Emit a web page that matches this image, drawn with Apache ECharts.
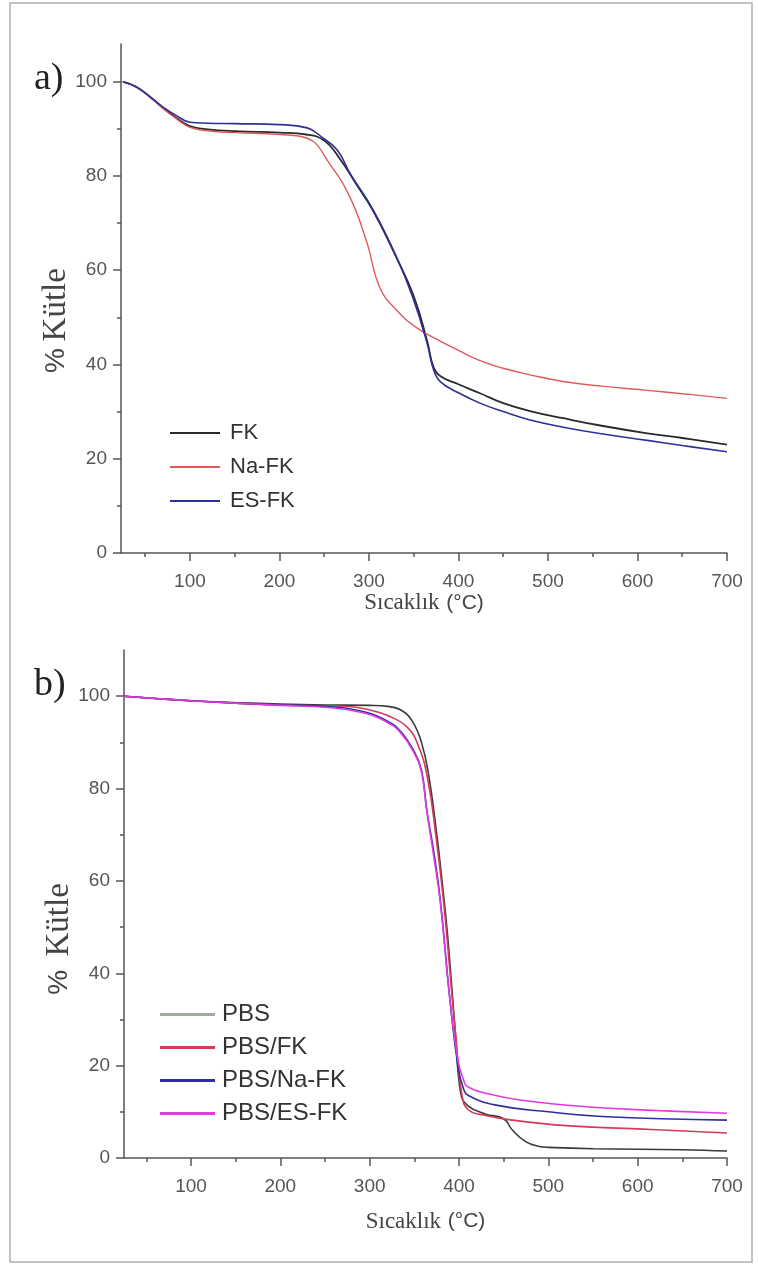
<!DOCTYPE html>
<html>
<head>
<meta charset="utf-8">
<script src="https://cdn.jsdelivr.net/npm/echarts@6.0.0/dist/echarts.min.js"></script>
<style>
  html, body { margin: 0; padding: 0; background: #fff; }
  #main { width: 758px; height: 1265px; }
</style>
</head>
<body>
<div id="main"></div>
<script>
// ---- panel a: FK, Na-FK, ES-FK ----
var tempFK  = [25, 40, 55, 70, 85, 100, 120, 150, 200, 230, 250, 268, 285, 305, 330, 350, 365, 372, 380, 400, 424, 450, 480, 517, 560, 611, 650, 700];
var massFK  = [100, 98.9, 96.8, 94.4, 92.3, 90.6, 89.9, 89.5, 89.2, 88.8, 87.5, 83.5, 78.5, 72.5, 63, 54.5, 45, 39.5, 37.5, 35.8, 33.9, 31.8, 30.1, 28.6, 27, 25.4, 24.4, 23];
var tempNa  = [25, 40, 55, 70, 85, 100, 120, 150, 200, 231, 256, 279, 298, 312, 331, 354, 379, 400, 424, 450, 480, 517, 560, 611, 650, 700];
var massNa  = [100, 98.9, 96.8, 94.3, 92.1, 90.3, 89.6, 89.2, 88.8, 88, 82.6, 75.4, 65.7, 56.4, 51.5, 47.7, 45, 43, 40.8, 39.2, 37.8, 36.4, 35.4, 34.5, 33.8, 32.8];
var tempES  = [25, 40, 55, 70, 85, 100, 120, 150, 200, 231, 249, 265, 279, 305, 331, 349, 365, 372, 380, 400, 424, 450, 480, 517, 560, 611, 650, 700];
var massES  = [100, 98.9, 96.9, 94.6, 92.8, 91.4, 91.2, 91.1, 90.9, 90.2, 88, 85.4, 80.5, 72.7, 62.7, 54.2, 44.5, 39, 36.3, 34, 31.8, 30, 28.2, 26.7, 25.3, 23.9, 22.8, 21.5];

// ---- panel b: PBS composites ----
var tempPBS    = [25, 60, 100, 150, 200, 250, 300, 320, 335, 348, 358, 366, 375, 381, 387, 396, 402, 410, 430, 450, 460, 475, 490, 500, 550, 650, 700];
var massPBS    = [100, 99.5, 99, 98.6, 98.3, 98.1, 98, 97.8, 97, 94.5, 90, 83, 70.3, 60, 48.7, 27, 14, 11.3, 9.5, 8.5, 6, 3.5, 2.5, 2.3, 2, 1.8, 1.5];
var tempPBSFK  = [25, 60, 100, 150, 200, 250, 280, 300, 320, 342, 355, 365, 374, 383, 390, 397, 403, 410, 430, 460, 520, 600, 700];
var massPBSFK  = [100, 99.5, 99, 98.5, 98.1, 97.9, 97.7, 97, 95.8, 93.3, 89, 82, 70, 55, 40, 25, 14, 10.5, 9.2, 8.2, 7, 6.3, 5.4];
var tempPBSNa  = [25, 60, 100, 150, 200, 250, 290, 320, 335, 349, 358, 364, 372, 379, 390, 399, 405, 410, 440, 500, 560, 700];
var massPBSNa  = [100, 99.5, 99, 98.5, 98.1, 97.8, 96.8, 94.6, 92.3, 88.3, 84, 75.3, 66, 56, 34, 19.7, 15, 13.6, 11.5, 10, 9, 8.2];
var tempPBSES  = [25, 60, 100, 150, 200, 250, 290, 320, 335, 349, 358, 364, 372, 379, 390, 399, 405, 409, 430, 470, 550, 620, 700];
var massPBSES  = [100, 99.5, 99, 98.5, 98, 97.6, 96.5, 94.3, 92, 88, 83.5, 75, 65, 55.5, 34, 21, 17, 15.5, 14, 12.5, 11, 10.3, 9.7];

// tick labels
var xMajor = [100, 200, 300, 400, 500, 600, 700];
var xMinor = [50, 150, 250, 350, 450, 550, 650];
var yMajor = [0, 20, 40, 60, 80, 100];
var yMinor = [10, 30, 50, 70, 90];

function pairs(xs, ys) {
    var out = [];
    for (var i = 0; i < xs.length; i++) out.push([xs[i], ys[i]]);
    return out;
}

var axisColor = '#555';
var labelFont = '"Liberation Sans", Arial, sans-serif';
var serifFont = '"Liberation Serif", "Times New Roman", serif';
var sansFont = '"Liberation Sans", Arial, sans-serif';

function xMain(grid, min, gap) {
    return {
        gridIndex: grid, type: 'value', min: min, max: 700, position: 'bottom',
        axisLine: { lineStyle: { color: axisColor, width: 1.5 } },
        axisTick: { customValues: xMajor, length: 8, lineStyle: { color: axisColor, width: 1.5 } },
        axisLabel: { customValues: xMajor, margin: 19, fontSize: 19, color: '#555', fontFamily: labelFont },
        splitLine: { show: false },
        name: '{s|Sıcaklık}  {a|(°C)}', nameLocation: 'middle', nameGap: gap,
        nameTextStyle: {
            rich: {
                s: { fontFamily: serifFont, fontSize: 23, color: '#444' },
                a: { fontFamily: sansFont, fontSize: 21, color: '#444' }
            }
        }
    };
}
function xSub(grid, min) {
    return {
        gridIndex: grid, type: 'value', min: min, max: 700, position: 'bottom',
        axisLine: { show: false },
        axisTick: { customValues: xMinor, length: 4, lineStyle: { color: axisColor, width: 1.5 } },
        axisLabel: { show: false }, splitLine: { show: false }
    };
}
function yMain(grid, max, nameText, pad) {
    return {
        gridIndex: grid, type: 'value', min: 0, max: max, position: 'left',
        axisLine: { lineStyle: { color: axisColor, width: 1.5 } },
        axisTick: { customValues: yMajor, length: 8, lineStyle: { color: axisColor, width: 1.5 } },
        axisLabel: { customValues: yMajor, margin: 14, fontSize: 19, color: '#555', fontFamily: labelFont },
        splitLine: { show: false },
        name: nameText, nameLocation: 'middle', nameGap: 48, nameRotate: 90,
        nameMoveOverlap: false,
        nameTextStyle: {
            padding: pad,
            rich: {
                p: { fontFamily: sansFont, fontSize: 28, color: '#444' },
                k: { fontFamily: serifFont, fontSize: 33, color: '#444' }
            }
        }
    };
}
function ySub(grid, max) {
    return {
        gridIndex: grid, type: 'value', min: 0, max: max, position: 'left',
        axisLine: { show: false },
        axisTick: { customValues: yMinor, length: 4, lineStyle: { color: axisColor, width: 1.5 } },
        axisLabel: { show: false }, splitLine: { show: false }
    };
}
function line(name, data, color, width, xi, yi) {
    return {
        name: name, type: 'line', xAxisIndex: xi, yAxisIndex: yi,
        data: data, symbol: 'none', smooth: 0.45,
        lineStyle: { color: color, width: width }, itemStyle: { color: color },
        z: 3
    };
}

var chart = echarts.init(document.getElementById('main'));
chart.setOption({
    animation: false,
    backgroundColor: '#fff',
    graphic: [
        { type: 'rect', shape: { x: 10, y: 3, width: 742, height: 1259 },
          style: { fill: 'none', stroke: '#b0b0b0', lineWidth: 1.5 }, silent: true },
        { type: 'text', left: 34, top: 60,
          style: { text: 'a)', fontFamily: serifFont, fontSize: 38, fill: '#222' } },
        { type: 'text', left: 34, top: 666,
          style: { text: 'b)', fontFamily: serifFont, fontSize: 38, fill: '#222' } }
    ],
    grid: [
        { left: 121, top: 44, width: 606, height: 509 },
        { left: 124, top: 650, width: 603, height: 508 }
    ],
    legend: [
        {
            data: ['FK', 'Na-FK', 'ES-FK'],
            orient: 'vertical', left: 165, top: 416, icon: 'rect',
            itemWidth: 50, itemHeight: 2, itemGap: 10,
            textStyle: { fontSize: 22, fontFamily: sansFont, color: '#333', lineHeight: 24, padding: [0, 0, 0, 5] }
        },
        {
            data: [
                { name: 'PBS', itemStyle: { color: '#9fab9f' } },
                'PBS/FK', 'PBS/Na-FK', 'PBS/ES-FK'
            ],
            orient: 'vertical', left: 155, top: 997, icon: 'rect',
            itemWidth: 55, itemHeight: 3, itemGap: 8,
            textStyle: { fontSize: 24, fontFamily: sansFont, color: '#333', lineHeight: 25, padding: [0, 0, 0, 2] }
        }
    ],
    xAxis: [xMain(0, 23, 38), xSub(0, 23), xMain(1, 25, 52), xSub(1, 25)],
    yAxis: [
        yMain(0, 108, '{p|%}  {k|Kütle}', [0, 44, 0, 0]), ySub(0, 108),
        yMain(1, 110, '{p|%}    {k|Kütle}', [0, 70, 0, 0]), ySub(1, 110)
    ],
    series: [
        line('FK', pairs(tempFK, massFK), '#2a2a2a', 1.8, 0, 0),
        line('Na-FK', pairs(tempNa, massNa), '#e05a5a', 1.4, 0, 0),
        line('ES-FK', pairs(tempES, massES), '#2f2f9a', 1.6, 0, 0),
        line('PBS', pairs(tempPBS, massPBS), '#3a3a3a', 1.6, 2, 2),
        line('PBS/FK', pairs(tempPBSFK, massPBSFK), '#d63a5a', 1.6, 2, 2),
        line('PBS/Na-FK', pairs(tempPBSNa, massPBSNa), '#2e2ea8', 1.6, 2, 2),
        line('PBS/ES-FK', pairs(tempPBSES, massPBSES), '#e03ae0', 1.6, 2, 2)
    ]
});
</script>
</body>
</html>
